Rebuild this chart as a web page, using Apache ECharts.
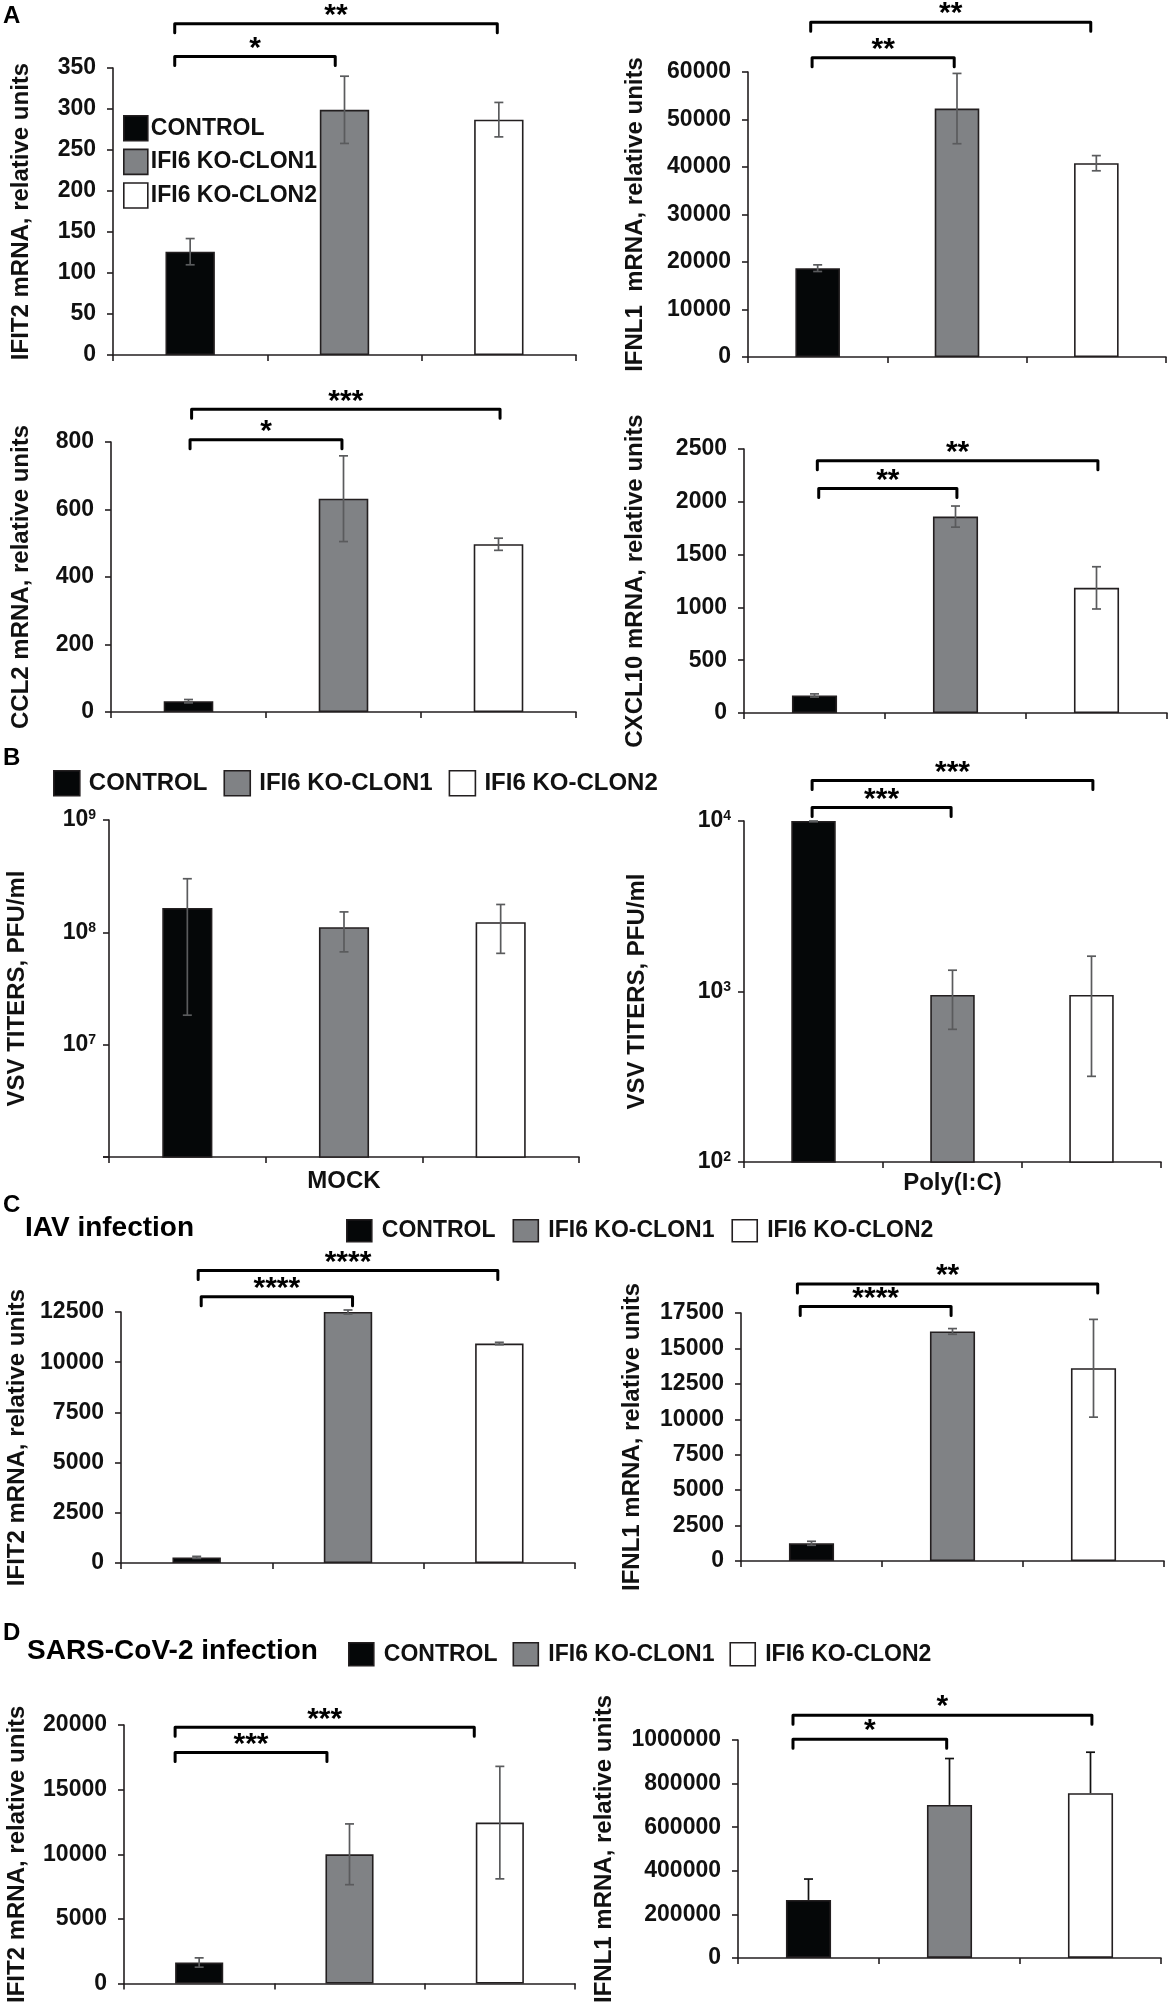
<!DOCTYPE html>
<html><head><meta charset="utf-8">
<script src="https://cdn.jsdelivr.net/npm/echarts@6/dist/echarts.min.js"></script>
<style>html,body{margin:0;padding:0;background:#fff}#c{width:1168px;height:2005px}</style>
</head><body><div id="c"></div>
<script>
// ---- categories / groups ----
const groups = ['CONTROL', 'IFI6 KO-CLON1', 'IFI6 KO-CLON2'];

// ---- Panel A ----
const aIfit2 = [126, 299, 287];
const aIfit2Err = [16, 41, 21];
const aIfit2Sig = [[-0.10, 0.94, 364, '*'], [-0.10, 1.99, 404, '**']];

const aIfnl1 = [18700, 52300, 40800];
const aIfnl1Err = [700, 7400, 1600];
const aIfnl1Sig = [[-0.04, 0.98, 63000, '**'], [-0.05, 1.96, 70500, '**']];

const aCcl2 = [32, 632, 497];
const aCcl2Err = [5, 127, 18];
const aCcl2Sig = [[0.01, 0.99, 807, '*'], [0.02, 2.01, 897, '***']];

const aCxcl10 = [166, 1860, 1185];
const aCxcl10Err = [15, 100, 200];
const aCxcl10Sig = [[0.03, 1.01, 2127, '**'], [0.02, 2.01, 2389, '**']];

// ---- Panel B (log scale titers) ----
const bMock = [1.65e8, 1.11e8, 1.23e8];
const bMockLow = [1.83e7, 6.7e7, 6.5e7];
const bMockHigh = [3.0e8, 1.52e8, 1.77e8];

const bPoly = [1.0e4, 955, 955];
const bPolyLow = [9900, 600, 318];
const bPolyHigh = [1.0e4, 1333, 1611];
const bPolySig = [[-0.01, 0.99, 12000, '***'], [-0.01, 2.01, 17260, '***']];

// ---- Panel C (IAV) ----
const cIfit2 = [280, 12500, 10930];
const cIfit2Err = [50, 100, 60];
const cIfit2Sig = [[0.03, 1.03, 13255, '****'], [0.01, 1.99, 14564, '****']];

const cIfnl1 = [1250, 16200, 13600];
const cIfnl1Err = [140, 200, 3450];
const cIfnl1Sig = [[-0.08, 0.99, 17950, '****'], [-0.10, 2.03, 19540, '**']];

// ---- Panel D (SARS-CoV-2) ----
const dIfit2 = [1630, 10000, 12450];
const dIfit2Err = [360, 2350, 4350];
const dIfit2Sig = [[-0.16, 0.85, 17878, '***'], [-0.16, 1.83, 19819, '***']];

const dIfnl1 = [266000, 702000, 756000];
const dIfnl1ErrUp = [96000, 213000, 188000];
const dIfnl1Sig = [[-0.11, 0.98, 1004000, '*'], [-0.11, 2.01, 1114000, '*']];

// ---- styling ----
const FONT = "'Liberation Sans', Arial, Helvetica, sans-serif";
const INK = '#111111';
const AXIS = '#231f20';
const barColors = ['#050708', '#808285', '#ffffff'];

const sym = (vals, err, sign) => vals.map((v, i) => v + sign * err[i]);

const panels = [
  {grid:[113,68,463,287], vals:aIfit2, low:sym(aIfit2,aIfit2Err,-1), high:sym(aIfit2,aIfit2Err,1), sig:aIfit2Sig, max:350, interval:50, name:'IFIT2 mRNA, relative units', nameGap:80},
  {grid:[748,72,418,285], vals:aIfnl1, low:sym(aIfnl1,aIfnl1Err,-1), high:sym(aIfnl1,aIfnl1Err,1), sig:aIfnl1Sig, max:60000, interval:10000, name:'IFNL1  mRNA, relative units', nameGap:101},
  {grid:[111,442,465,270], vals:aCcl2, low:sym(aCcl2,aCcl2Err,-1), high:sym(aCcl2,aCcl2Err,1), sig:aCcl2Sig, max:800, interval:200, name:'CCL2 mRNA, relative units', nameGap:78},
  {grid:[744,449,423,264], vals:aCxcl10, low:sym(aCxcl10,aCxcl10Err,-1), high:sym(aCxcl10,aCxcl10Err,1), sig:aCxcl10Sig, max:2500, interval:500, name:'CXCL10 mRNA, relative units', nameGap:97},
  {grid:[109,820,470,337], vals:bMock, low:bMockLow, high:bMockHigh, sig:[], log:true, min:1e6, max:1e9, hideExp:[6], name:'VSV TITERS, PFU/ml', nameGap:80, xName:'MOCK', xNameGap:12},
  {grid:[744,821,417,341], vals:bPoly, low:bPolyLow, high:bPolyHigh, sig:bPolySig, log:true, min:1e2, max:1e4, hideExp:[], name:'VSV TITERS, PFU/ml', nameGap:95, xName:'Poly(I:C)', xNameGap:9},
  {grid:[121,1312,454,251], vals:cIfit2, low:sym(cIfit2,cIfit2Err,-1), high:sym(cIfit2,cIfit2Err,1), sig:cIfit2Sig, max:12500, interval:2500, name:'IFIT2 mRNA, relative units', nameGap:92},
  {grid:[741,1313,423,248], vals:cIfnl1, low:sym(cIfnl1,cIfnl1Err,-1), high:sym(cIfnl1,cIfnl1Err,1), sig:cIfnl1Sig, max:17500, interval:2500, name:'IFNL1 mRNA, relative units', nameGap:97},
  {grid:[124,1725,451,260], vals:dIfit2, low:sym(dIfit2,dIfit2Err,-1), high:sym(dIfit2,dIfit2Err,1), sig:dIfit2Sig, max:20000, interval:5000, name:'IFIT2 mRNA, relative units', nameGap:95},
  {grid:[738,1740,423,251], vals:dIfnl1, low:dIfnl1.slice(), high:sym(dIfnl1,dIfnl1ErrUp,1), sig:dIfnl1Sig, max:1000000, interval:200000, name:'IFNL1 mRNA, relative units', nameGap:122, errColor:'#111111', upperOnly:true}
];

const grids = [], xAxes = [], yAxes = [], series = [];

panels.forEach((p, k) => {
  grids.push({left:p.grid[0], top:p.grid[1], width:p.grid[2], height:p.grid[3], containLabel:false});
  xAxes.push({
    type:'category', gridIndex:k, data:groups,
    axisLine:{show:true, lineStyle:{color:AXIS, width:1.6}},
    axisTick:{show:true, length:6, lineStyle:{color:AXIS, width:1.6}},
    axisLabel:{show:false}, splitLine:{show:false},
    name: p.xName || '', nameLocation:'middle', nameGap: p.xNameGap || 10,
    nameTextStyle:{fontFamily:FONT, fontSize:24, fontWeight:'bold', color:INK}
  });
  const y = {
    gridIndex:k, max:p.max,
    axisLine:{show:true, lineStyle:{color:AXIS, width:1.6}},
    axisTick:{show:true, length:6, lineStyle:{color:AXIS, width:1.6}},
    splitLine:{show:false},
    name:p.name, nameLocation:'middle', nameRotate:90, nameGap:p.nameGap,
    nameTextStyle:{fontFamily:FONT, fontSize:24, fontWeight:'bold', color:INK}
  };
  if (p.log) {
    y.type = 'log'; y.logBase = 10; y.min = p.min;
    y.axisLabel = {
      margin:13, color:INK,
      formatter: v => {
        const e = Math.round(Math.log10(v));
        if (p.hideExp.indexOf(e) >= 0) return '';
        return '{b|10}{s|' + e + '}';
      },
      rich:{
        b:{fontFamily:FONT, fontSize:23, fontWeight:'bold', color:INK},
        s:{fontFamily:FONT, fontSize:14, fontWeight:'bold', color:INK, verticalAlign:'top'}
      }
    };
  } else {
    y.type = 'value'; y.min = 0; y.interval = p.interval;
    y.axisLabel = {margin:17, fontFamily:FONT, fontSize:23, fontWeight:'bold', color:INK,
                   formatter: v => String(v)};
  }
  yAxes.push(y);

  groups.forEach((g, gi) => {
    series.push({
      type:'bar', name:g, xAxisIndex:k, yAxisIndex:k,
      data:p.vals.map((v, j) => j === gi ? v : '-'),
      barWidth:'32%', barGap:'-100%', clip:true,
      itemStyle:{color:barColors[gi], borderColor:AXIS, borderWidth:1.6},
      emphasis:{disabled:true}, silent:true, z:2
    });
  });

  const errCol = p.errColor || '#5a5b5d';
  series.push({
    type:'custom', xAxisIndex:k, yAxisIndex:k, silent:true, z:5,
    data:p.vals.map((v, j) => [j, p.low[j], p.high[j]]),
    renderItem:(params, api) => {
      const x = api.value(0);
      const lo = api.coord([x, api.value(1)]);
      const hi = api.coord([x, api.value(2)]);
      const cx = lo[0], hw = 4.5;
      const st = {stroke:errCol, lineWidth:1.7};
      const ch = [
        {type:'line', shape:{x1:cx, y1:lo[1], x2:cx, y2:hi[1]}, style:st},
        {type:'line', shape:{x1:cx-hw, y1:hi[1], x2:cx+hw, y2:hi[1]}, style:st}
      ];
      if (!p.upperOnly) ch.push({type:'line', shape:{x1:cx-hw, y1:lo[1], x2:cx+hw, y2:lo[1]}, style:st});
      return {type:'group', children:ch};
    }
  });

  if (p.sig.length) {
    series.push({
      type:'custom', xAxisIndex:k, yAxisIndex:k, silent:true, z:6, clip:false,
      data:p.sig.map(s => [s[0], s[1], s[2]]),
      renderItem:(params, api) => {
        const s = p.sig[params.dataIndex];
        const c0 = api.coord([0, s[2]]);
        const c1 = api.coord([1, s[2]]);
        const bw = c1[0] - c0[0];
        const X1 = c0[0] + s[0] * bw, X2 = c0[0] + s[1] * bw, Y = c0[1];
        return {type:'group', children:[
          {type:'polyline', shape:{points:[[X1, Y + 9], [X1, Y], [X2, Y], [X2, Y + 9]]},
           style:{stroke:'#000', lineWidth:3, fill:null, lineJoin:'round', lineCap:'round'}},
          {type:'text', x:(X1 + X2) / 2, y:Y - 8,
           style:{text:s[3], fontFamily:FONT, fontSize:30, fontWeight:'bold', fill:'#000', align:'center', verticalAlign:'middle'}}
        ]};
      }
    });
  }
});

const legendText = size => ({fontFamily:FONT, fontSize:size, fontWeight:'bold', color:INK});
const legends = [
  {orient:'vertical', left:118, top:110, itemWidth:24, itemHeight:25, itemGap:7, icon:'rect', selectedMode:false,
   data:groups, itemStyle:{borderColor:AXIS, borderWidth:1.6}, textStyle:Object.assign({padding:[0,0,0,-2]}, legendText(23))},
  {orient:'horizontal', left:48, top:765, itemWidth:26, itemHeight:25, itemGap:16, icon:'rect', selectedMode:false,
   data:groups, itemStyle:{borderColor:AXIS, borderWidth:1.6}, textStyle:Object.assign({padding:[0,0,0,4]}, legendText(24))},
  {orient:'horizontal', left:341, top:1214, itemWidth:25, itemHeight:22, itemGap:17, icon:'rect', selectedMode:false,
   data:groups, itemStyle:{borderColor:AXIS, borderWidth:1.6}, textStyle:Object.assign({padding:[0,0,0,5]}, legendText(23))},
  {orient:'horizontal', left:343, top:1637, itemWidth:25, itemHeight:23, itemGap:15, icon:'rect', selectedMode:false,
   data:groups, itemStyle:{borderColor:AXIS, borderWidth:1.6}, textStyle:Object.assign({padding:[0,0,0,5]}, legendText(23))}
];

const heading = (t, l, tp, size) => ({type:'text', left:l, top:tp,
  style:{text:t, fontFamily:FONT, fontSize:size, fontWeight:'bold', fill:'#000'}});

const chart = echarts.init(document.getElementById('c'), null, {renderer:'canvas'});
chart.setOption({
  animation:false,
  backgroundColor:'#ffffff',
  grid:grids, xAxis:xAxes, yAxis:yAxes, series:series, legend:legends,
  graphic:[
    heading('A', 3, 4, 24),
    heading('B', 3, 746, 24),
    heading('C', 3, 1193, 24),
    heading('D', 3, 1621, 24),
    heading('IAV infection', 25, 1214, 28),
    heading('SARS-CoV-2 infection', 27, 1637, 28)
  ]
});
</script></body></html>
